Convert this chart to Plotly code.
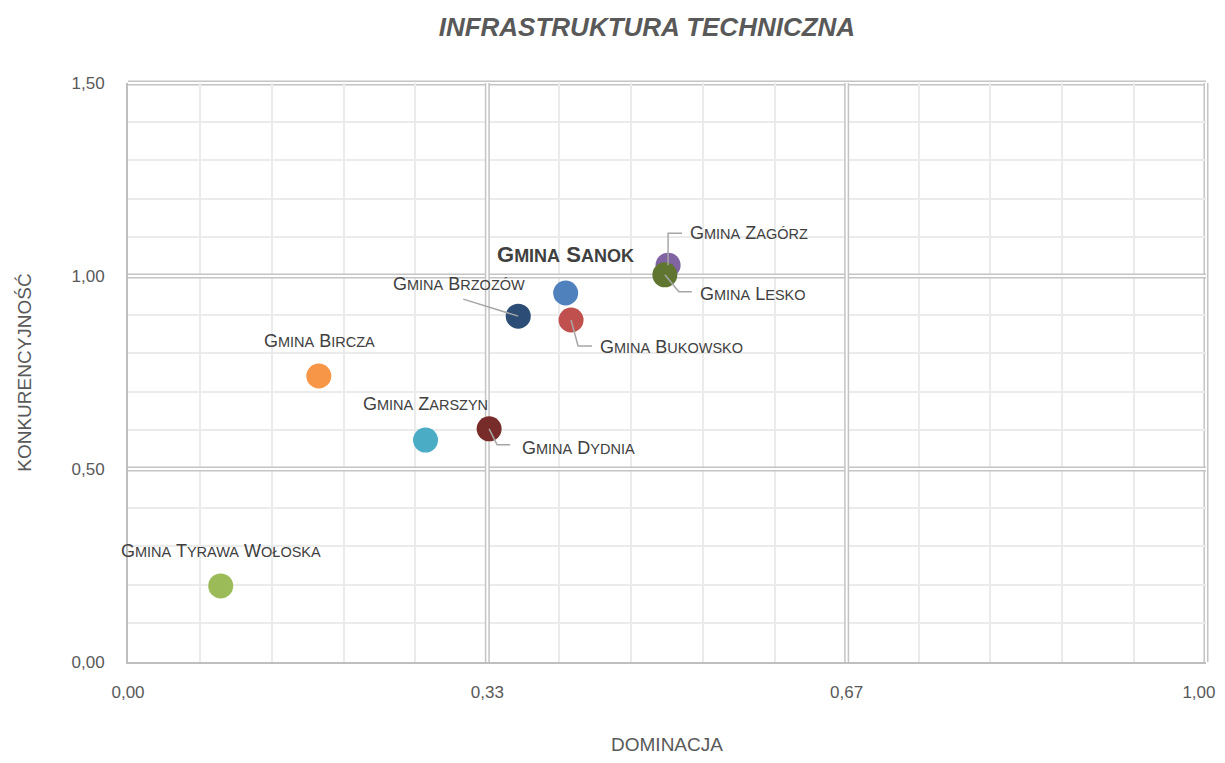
import plotly.graph_objects as go

# ---- data ----
names = ["Gmina Tyrawa Wołoska", "Gmina Bircza", "Gmina Zarszyn", "Gmina Dydnia",
         "Gmina Brzozów", "Gmina Sanok", "Gmina Bukowsko", "Gmina Zagórz", "Gmina Lesko"]
dominacja = [0.086, 0.177, 0.276, 0.335, 0.362, 0.406, 0.411, 0.501, 0.498]
konkurencyjnosc = [0.197, 0.741, 0.575, 0.604, 0.896, 0.956, 0.886, 1.028, 1.003]
colors = ["#9BBB59", "#F79646", "#4BACC6", "#772C2A", "#2C4D75", "#4F81BD",
          "#C0504D", "#8064A2", "#5F7530"]

x_ticks = [0, 1/3, 2/3, 1]
x_ticktext = ["0,00", "0,33", "0,67", "1,00&nbsp;&nbsp;&nbsp;"]
y_ticks = [0, 0.5, 1.0, 1.5]
y_ticktext = ["0,00", "0,50", "1,00", "1,50"]

# label placement: (xanchor, xshift, yshift, leader path in pixels or None)
label_pos = {
    "Gmina Tyrawa Wołoska": ("center", 0, 35, None),
    "Gmina Bircza": ("center", 1, 35, None),
    "Gmina Zarszyn": ("center", 0, 36, None),
    "Gmina Dydnia": ("left", 31, -19, "M0,0 L8,-16 L21,-16"),
    "Gmina Brzozów": ("right", 9, 32, "M0,0 L-55,17"),
    "Gmina Sanok": ("center", 0, 38, None),
    "Gmina Bukowsko": ("left", 27, -27, "M0,0 L7,-26 L21,-26"),
    "Gmina Zagórz": ("left", 20, 32, "M0,0 L0,32 L14,32"),
    "Gmina Lesko": ("left", 33, -19, "M0,0 L14,-17 L27,-17"),
}

FONT = "Liberation Sans Narrow, Arial Narrow, Liberation Sans, Arial, sans-serif"
TXT = "#404040"


def small_caps(text, small, bold=False):
    out = []
    for word in text.split(" "):
        w = word[0] + "<span style='font-size:%spx'>%s</span>" % (small, word[1:].upper()) if len(word) > 1 else word
        out.append(w)
    s = " ".join(out)
    if bold:
        s = "<b>" + s + "</b>"
    return s


fig = go.Figure()

shapes = []
def dbl(x0, x1, y0, y1, xref="x", yref="y"):
    shapes.append(dict(type="line", xref=xref, yref=yref, x0=x0, x1=x1, y0=y0, y1=y1,
                       line=dict(color="#C4C4C4", width=5), layer="between"))
    shapes.append(dict(type="line", xref=xref, yref=yref, x0=x0, x1=x1, y0=y0, y1=y1,
                       line=dict(color="#FFFFFF", width=2), layer="between"))

# interior major lines (data coords)
dbl(0, 1, 0.5, 0.5)
dbl(0, 1, 1.0, 1.0)
dbl(1/3, 1/3, 0, 1.5)
dbl(2/3, 2/3, 0, 1.5)
# outer top / right borders (paper coords so they are not clipped)
dbl(0, 1, 1, 1, xref="paper", yref="paper")
dbl(1, 1, 0, 1, xref="paper", yref="paper")

for i, n in enumerate(names):
    fig.add_trace(go.Scatter(
        x=[dominacja[i]], y=[konkurencyjnosc[i]], mode="markers", name=n,
        marker=dict(size=25, color=colors[i], line=dict(width=0)),
        showlegend=False, hoverinfo="text", text=[n]))

annotations = []
for i, n in enumerate(names):
    xa, xs, ys, path = label_pos[n]
    if n == "Gmina Sanok":
        txt = small_caps(n, 18, bold=True)
        size = 22
    else:
        txt = small_caps(n, 14.5)
        size = 18
    annotations.append(dict(x=dominacja[i], y=konkurencyjnosc[i], xref="x", yref="y",
                            text=txt, showarrow=False, xanchor=xa, yanchor="middle",
                            xshift=xs, yshift=ys,
                            font=dict(family=FONT, size=size, color=TXT)))
    if path:
        shapes.append(dict(type="path", xref="x", yref="y", xsizemode="pixel", ysizemode="pixel",
                           xanchor=dominacja[i], yanchor=konkurencyjnosc[i], path=path,
                           line=dict(color="#A6A6A6", width=1.5), layer="above"))

fig.update_layout(
    width=1217, height=747,
    margin=dict(l=120, r=19, t=75, b=93),
    paper_bgcolor="white", plot_bgcolor="white",
    title=dict(text="<b><i>INFRASTRUKTURA TECHNICZNA</i></b>", x=0.525, xanchor="center",
               y=0.975, yanchor="middle",
               font=dict(family="Liberation Sans, Arial, sans-serif", size=26, color="#595959")),
    shapes=shapes, annotations=annotations,
    xaxis=dict(range=[0, 1], tickmode="array", tickvals=x_ticks, ticktext=x_ticktext,
               showgrid=False, zeroline=False, showline=True, linecolor="#BFBFBF", linewidth=2,
               ticks="", ticklabelstandoff=14, automargin=False, ticklabeloverflow="allow",
               tickfont=dict(family=FONT, size=17, color="#595959"),
               minor=dict(dtick=1/15, tick0=0, showgrid=True, gridcolor="#EBEBEB", gridwidth=2),
               title=dict(text="DOMINACJA", standoff=36,
                          font=dict(family=FONT, size=19, color="#595959"))),
    yaxis=dict(range=[0, 1.5], tickmode="array", tickvals=y_ticks, ticktext=y_ticktext,
               showgrid=False, zeroline=False, showline=True, linecolor="#BFBFBF", linewidth=2,
               ticks="", ticklabelstandoff=18, automargin=False,
               tickfont=dict(family=FONT, size=17, color="#595959"),
               minor=dict(dtick=0.1, tick0=0, showgrid=True, gridcolor="#EBEBEB", gridwidth=2),
               title=dict(text="KONKURENCYJNOŚĆ", standoff=35,
                          font=dict(family=FONT, size=19, color="#595959"))),
)

fig.write_html("out.html")
